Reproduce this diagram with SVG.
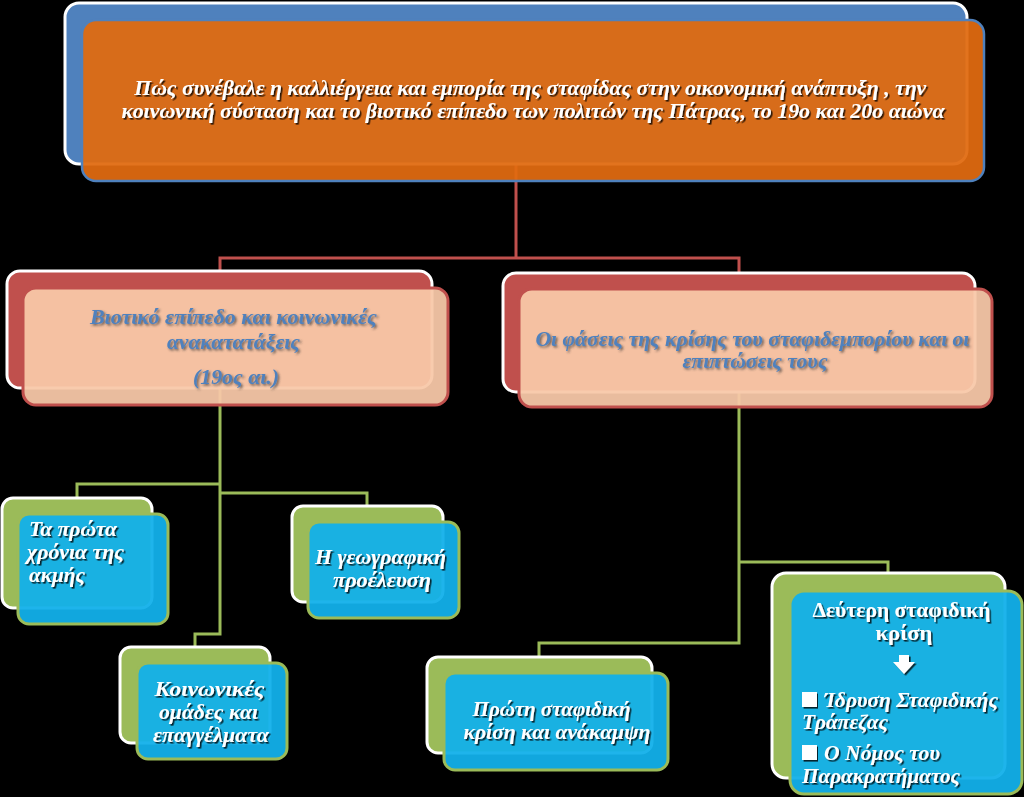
<svg xmlns="http://www.w3.org/2000/svg" width="1024" height="797" viewBox="0 0 1024 797">
  <defs>
    <filter id="ts" x="-5%" y="-20%" width="110%" height="150%">
      <feDropShadow dx="1.6" dy="1.6" stdDeviation="0.7" flood-color="#000" flood-opacity="0.8"/>
    </filter>
    <filter id="ts2" x="-5%" y="-20%" width="110%" height="150%">
      <feDropShadow dx="1.6" dy="1.6" stdDeviation="0.8" flood-color="#333" flood-opacity="0.7"/>
    </filter>
  </defs>
  <style>
    .back-blue { fill: #4F81BD; stroke: #fff; stroke-width: 3; }
    .front-orange { fill: #E06A10; fill-opacity: 0.94; stroke: #4F81BD; stroke-width: 2.5; }
    .back-red { fill: #C0504D; stroke: #fff; stroke-width: 3; }
    .front-peach { fill: #F8C8A8; fill-opacity: 0.94; stroke: #C0504D; stroke-width: 3; }
    .back-green { fill: #9BBB59; stroke: #fff; stroke-width: 3; }
    .front-cyan { fill: #12B0EA; fill-opacity: 0.95; stroke: #9BBB59; stroke-width: 3; }
    .t { font-family: "Liberation Serif", "DejaVu Serif", serif; font-weight: bold; font-style: italic; }
    .tw { fill: #fff; filter: url(#ts); }
    .tb { fill: #4F81BD; filter: url(#ts2); }
    .up { font-style: normal; }
    .conn-red { fill: none; stroke: #C0504D; stroke-width: 3; }
    .conn-green { fill: none; stroke: #9BBB59; stroke-width: 3; }
  </style>
  <rect x="0" y="0" width="1024" height="797" fill="#000"/>

  <g id="connectors">
    <path class="conn-red" d="M516,164 V258 M220,271 V258 H739 V273"/>
    <path class="conn-green" d="M220,388 V634 H195 V647 M220,484 H77 V498 M220,493 H367 V506"/>
    <path class="conn-green" d="M739,392 V643 H539 V657 M739,562 H888 V573"/>
  </g>

  <g id="node-root">
    <rect class="back-blue" x="65" y="3" width="902" height="161" rx="14"/>
    <rect class="front-orange" x="82" y="20" width="902" height="161" rx="14"/>
    <text class="t tw" font-size="22" text-anchor="middle">
      <tspan x="533" y="95" textLength="792" lengthAdjust="spacingAndGlyphs">Πώς συνέβαλε η καλλιέργεια και εμπορία της σταφίδας στην οικονομική ανάπτυξη , την</tspan>
      <tspan x="533" y="118" textLength="823" lengthAdjust="spacingAndGlyphs">κοινωνική σύσταση και το βιοτικό επίπεδο των πολιτών της Πάτρας, το 19ο και 20ο αιώνα</tspan>
    </text>
  </g>

  <g id="node-living">
    <rect class="back-red" x="7" y="271" width="425" height="117" rx="13"/>
    <rect class="front-peach" x="23" y="288" width="425" height="117" rx="13"/>
    <text class="t tb" font-size="21" text-anchor="middle">
      <tspan x="236" y="324" textLength="287" lengthAdjust="spacingAndGlyphs">Βιοτικό επίπεδο και κοινωνικές</tspan>
      <tspan x="236" y="349" textLength="133" lengthAdjust="spacingAndGlyphs">ανακατατάξεις</tspan>
      <tspan x="236" y="384" textLength="86" lengthAdjust="spacingAndGlyphs">(19ος αι.)</tspan>
    </text>
  </g>

  <g id="node-crisis">
    <rect class="back-red" x="503" y="273" width="472" height="119" rx="13"/>
    <rect class="front-peach" x="519" y="289" width="473" height="118" rx="13"/>
    <text class="t tb" font-size="21" text-anchor="middle">
      <tspan x="755" y="346" textLength="434" lengthAdjust="spacingAndGlyphs">Οι φάσεις της κρίσης του σταφιδεμπορίου και οι</tspan>
      <tspan x="755" y="368" textLength="145" lengthAdjust="spacingAndGlyphs">επιπτώσεις τους</tspan>
    </text>
  </g>

  <g id="node-first-years">
    <rect class="back-green" x="2" y="498" width="150" height="110" rx="11"/>
    <rect class="front-cyan" x="18" y="514" width="150" height="110" rx="11"/>
    <text class="t tw" font-size="22">
      <tspan x="29" y="536" textLength="88" lengthAdjust="spacingAndGlyphs">Τα πρώτα</tspan>
      <tspan x="27" y="559" textLength="97" lengthAdjust="spacingAndGlyphs">χρόνια της</tspan>
      <tspan x="29" y="582" textLength="56" lengthAdjust="spacingAndGlyphs">ακμής</tspan>
    </text>
  </g>

  <g id="node-origin">
    <rect class="back-green" x="292" y="506" width="151" height="96" rx="11"/>
    <rect class="front-cyan" x="308" y="522" width="151" height="96" rx="11"/>
    <text class="t tw" font-size="20" text-anchor="middle">
      <tspan x="383" y="564" textLength="131" lengthAdjust="spacingAndGlyphs">Η γεωγραφική</tspan>
      <tspan x="382" y="587" textLength="98" lengthAdjust="spacingAndGlyphs">προέλευση</tspan>
    </text>
  </g>

  <g id="node-social">
    <rect class="back-green" x="120" y="647" width="150" height="96" rx="11"/>
    <rect class="front-cyan" x="137" y="663" width="150" height="96" rx="11"/>
    <text class="t tw" font-size="20" text-anchor="middle">
      <tspan x="212" y="696" textLength="110" lengthAdjust="spacingAndGlyphs">Κοινωνικές</tspan>
      <tspan x="211" y="719" textLength="99" lengthAdjust="spacingAndGlyphs">ομάδες και</tspan>
      <tspan x="211" y="742" textLength="116" lengthAdjust="spacingAndGlyphs">επαγγέλματα</tspan>
    </text>
  </g>

  <g id="node-first-crisis">
    <rect class="back-green" x="427" y="657" width="225" height="96" rx="11"/>
    <rect class="front-cyan" x="444" y="673" width="224" height="97" rx="11"/>
    <text class="t tw" font-size="20" text-anchor="middle">
      <tspan x="554" y="716" textLength="158" lengthAdjust="spacingAndGlyphs">Πρώτη σταφιδική</tspan>
      <tspan x="557" y="739" textLength="187" lengthAdjust="spacingAndGlyphs">κρίση και ανάκαμψη</tspan>
    </text>
  </g>

  <g id="node-second-crisis">
    <rect class="back-green" x="772" y="573" width="233" height="205" rx="14"/>
    <rect class="front-cyan" x="790" y="591" width="232" height="203" rx="14"/>
    <text class="t tw up" font-size="21" text-anchor="middle">
      <tspan x="904" y="617" textLength="178" lengthAdjust="spacingAndGlyphs">Δεύτερη σταφιδική</tspan>
      <tspan x="904" y="640" textLength="57" lengthAdjust="spacingAndGlyphs">κρίση</tspan>
    </text>
    <path d="M899,655 H909 V662 H915 L904,674 L893,662 H899 Z" fill="#fff" filter="url(#ts)"/>
    <rect x="802" y="692" width="15" height="15" fill="#fff" filter="url(#ts)"/>
    <rect x="802" y="745" width="15" height="15" fill="#fff" filter="url(#ts)"/>
    <text class="t tw" font-size="21">
      <tspan x="824" y="707" textLength="174" lengthAdjust="spacingAndGlyphs">Ίδρυση Σταφιδικής</tspan>
      <tspan x="802" y="729" textLength="86" lengthAdjust="spacingAndGlyphs">Τράπεζας</tspan>
      <tspan x="824" y="760" textLength="116" lengthAdjust="spacingAndGlyphs">Ο Νόμος του</tspan>
      <tspan x="802" y="783" textLength="158" lengthAdjust="spacingAndGlyphs">Παρακρατήματος</tspan>
    </text>
  </g>
</svg>
